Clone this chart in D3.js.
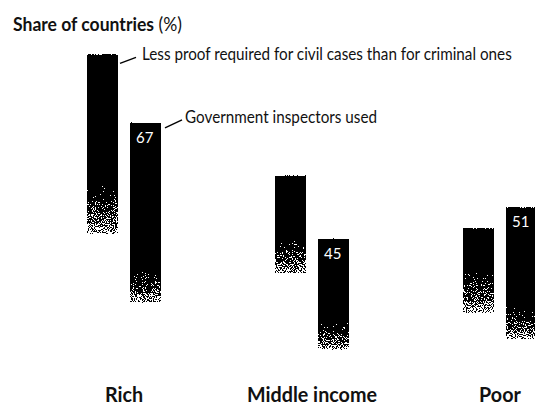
<!DOCTYPE html>
<html><head><meta charset="utf-8">
<script src="https://cdn.jsdelivr.net/npm/d3@7"></script>
<style>
html,body{margin:0;padding:0;background:#fff;}
text{font-family:Lato,"Open Sans",sans-serif;}
</style></head>
<body><svg id="c" width="535" height="405"></svg>
<script>
const categories = ["Rich", "Middle income", "Poor"];
const seriesNames = ["Less proof required for civil cases than for criminal ones", "Government inspectors used"];
const lessProof = [80, 57, 47];          // bar top value
const inspectors = [67, 45, 51];
const lessProofSolidTo = [55, 45, 39];    // solid down to this value, then fading
const inspectorsSolidTo = [39, 29, 32];
const lessProofFadeTo = [46, 38.5, 31];   // fade ends here
const inspectorsFadeTo = [33, 24, 26];
const titleText = "Share of countries";
const titleUnit = " (%)";

const svg = d3.select("#c");
const y = d3.scaleLinear().domain([0, 80]).range([476, 54.4]);
const x = d3.scaleBand().domain(categories).range([30, 594]);
const xs = d3.scaleBand().domain([0, 1]).range([0, 74]).paddingInner(12 / 43);

const series = [
  {name: seriesNames[0], vals: lessProof, solid: lessProofSolidTo, fade: lessProofFadeTo, label: false},
  {name: seriesNames[1], vals: inspectors, solid: inspectorsSolidTo, fade: inspectorsFadeTo, label: true}
];
// layout for annotation leaders: [x1,y1,x2,y2] offsets from bar's top-right corner, text baseline offset
const leader = [[2, 9, 18, 3, 6], [4, 5, 21, -3, 0]];

// condensed text helper: scale horizontally by sx
function ctext(sel, px, py, sx, anchor) {
  const len = sel.node().getComputedTextLength() * sx;
  const tx = anchor === "middle" ? px - len / 2 : px;
  sel.attr("x", 0).attr("y", 0).attr("transform", `translate(${tx},${py}) scale(${sx},1)`);
}
function fitScale(sel, w) { return w / sel.node().getComputedTextLength(); }

const defs = svg.append("defs");
const filt = defs.append("filter").attr("id", "dither")
  .attr("x", 0).attr("y", 0).attr("width", 1).attr("height", 1)
  .attr("color-interpolation-filters", "sRGB");
filt.append("feTurbulence").attr("type", "fractalNoise").attr("baseFrequency", 0.9)
  .attr("numOctaves", 2).attr("seed", 7).attr("result", "noise");
filt.append("feColorMatrix").attr("in", "noise").attr("type", "matrix")
  .attr("values", "0 0 0 0 0  0 0 0 0 0  0 0 0 0 0  2.0 0 0 0 -0.5").attr("result", "n");
filt.append("feComposite").attr("in", "SourceAlpha").attr("in2", "n").attr("operator", "arithmetic")
  .attr("k1", 0).attr("k2", 1).attr("k3", -1).attr("k4", 0.5).attr("result", "d");
filt.append("feComponentTransfer").attr("in", "d").attr("result", "t")
  .append("feFuncA").attr("type", "discrete").attr("tableValues", "0 1");
filt.append("feFlood").attr("flood-color", "#000").attr("result", "f");
filt.append("feComposite").attr("in", "f").attr("in2", "t").attr("operator", "in");

const g = svg.append("g");
series.forEach((s, si) => {
  categories.forEach((c, ci) => {
    const id = "gr" + si + "_" + ci;
    const lg = defs.append("linearGradient").attr("id", id)
      .attr("gradientUnits", "userSpaceOnUse")
      .attr("x1", 0).attr("x2", 0)
      .attr("y1", y(s.solid[ci])).attr("y2", y(s.fade[ci]));
    lg.append("stop").attr("offset", 0).attr("stop-color", "#000").attr("stop-opacity", 1);
    lg.append("stop").attr("offset", 1).attr("stop-color", "#000").attr("stop-opacity", 0.42);
    const bx = x(c) + x.bandwidth() / 2 - 37 + xs(si);
    g.append("rect")
      .attr("x", bx).attr("width", xs.bandwidth())
      .attr("y", y(s.vals[ci])).attr("height", y(s.fade[ci]) - y(s.vals[ci]))
      .attr("fill", "url(#" + id + ")")
      .attr("filter", "url(#dither)");
    if (s.label) {
      g.append("text").attr("x", bx + 6).attr("y", y(s.vals[ci]) + 20)
        .attr("fill", "#fff").attr("font-size", 15).text(s.vals[ci]);
    }
  });
});

// annotations with leader lines (attached to Rich bars)
let annotScale = null;
series.forEach((s, si) => {
  const bx = x(categories[0]) + x.bandwidth() / 2 - 37 + xs(si) + xs.bandwidth();
  const ty = y(s.vals[0]);
  const L = leader[si];
  svg.append("line").attr("x1", bx + L[0]).attr("y1", ty + L[1]).attr("x2", bx + L[2]).attr("y2", ty + L[3])
    .attr("stroke", "#000").attr("stroke-width", 1.4);
  const tt = svg.append("text").attr("font-size", 17).attr("fill", "#111").text(s.name);
  if (annotScale === null) annotScale = fitScale(tt, 370);
  ctext(tt, bx + 24, ty + L[4], annotScale);
});

// title
const t = svg.append("text").attr("font-size", 19).attr("fill", "#111");
t.append("tspan").attr("font-weight", "bold").text(titleText);
t.append("tspan").text(titleUnit);
ctext(t, 13, 31, fitScale(t, 169));

// category labels
const cats = svg.append("g").selectAll("text").data(categories).join("text")
  .attr("font-weight", "bold").attr("font-size", 20)
  .attr("fill", "#111").text(d => d);
const catScale = fitScale(cats.filter((d, i) => i === 1), 130);
cats.each(function(d) {
  ctext(d3.select(this), x(d) + x.bandwidth() / 2, 402, catScale, "middle");
});
</script></body></html>
